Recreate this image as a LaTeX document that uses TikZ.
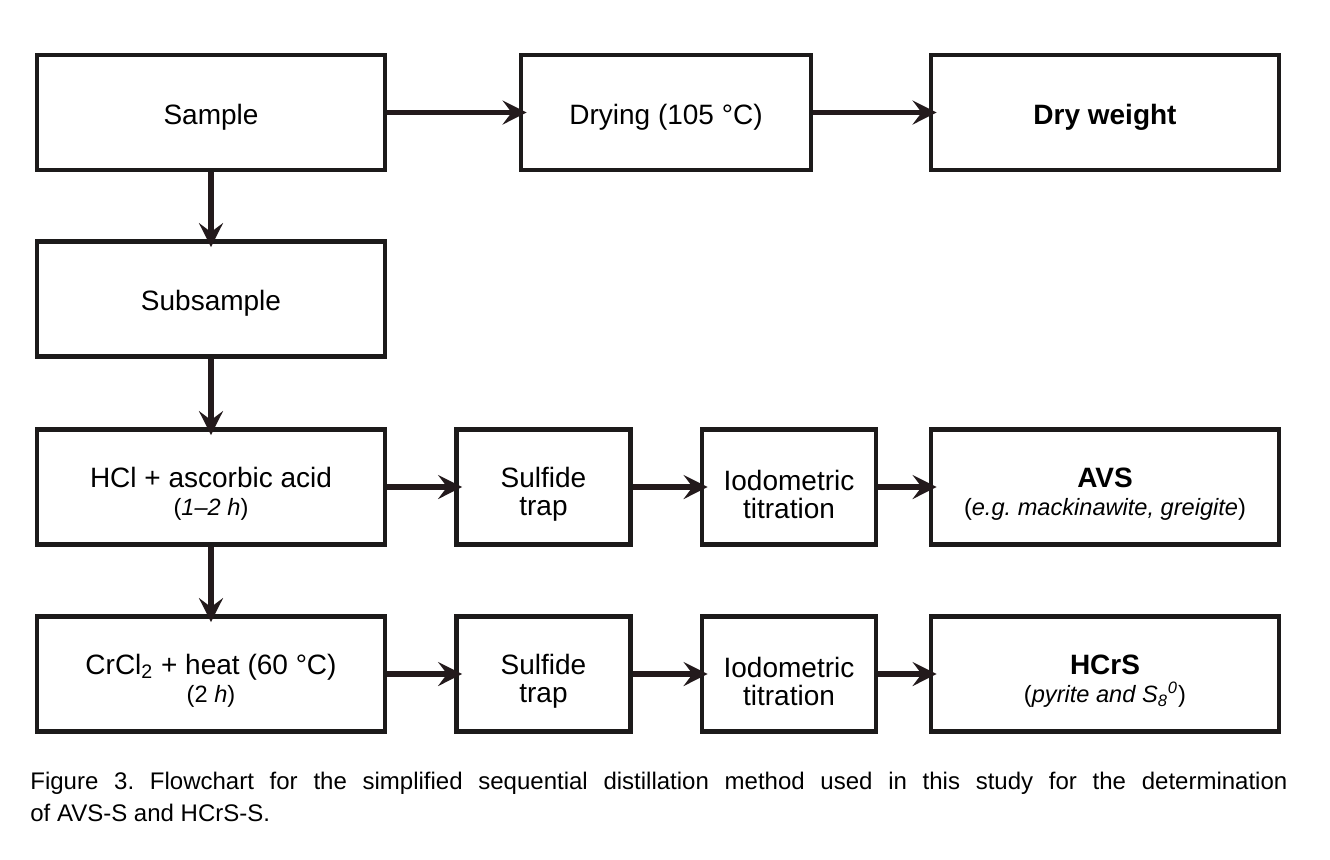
\documentclass[tikz,border=0pt]{standalone}
\usepackage{fontspec}
\setmainfont{Liberation Sans}
\usetikzlibrary{arrows.meta}
\definecolor{boxline}{HTML}{1C1A1A}
\definecolor{arrowline}{HTML}{231A1C}
\newcommand{\notesize}{\fontsize{11.8}{13.5}\selectfont}
\frenchspacing
\begin{document}
\begin{tikzpicture}[x=0.5pt, y=-0.5pt,
    stepbox/.style={draw=boxline, line width=2.4pt, minimum height=57.5pt,
        inner sep=2pt, align=center, font=\fontsize{14}{14}\selectfont,
        execute at begin node={\rule{0pt}{#1}}},
    stepbox/.default=14.5pt,
    widebox/.style={stepbox=#1, minimum width=174pt},
    widebox/.default=14.5pt,
    midbox/.style={stepbox, minimum width=145pt},
    smallbox/.style={stepbox=31.5pt, minimum width=87pt},
    flow/.style={draw=arrowline, line width=2.7pt, shorten >=-4pt,
        -{Stealth[length=12pt, width=12pt, inset=4.5pt]}}]
\useasboundingbox (0,0) rectangle (1330,859);
\node[widebox] (sample) at (211,112.5) {Sample};
\node[midbox] (drying) at (666,112.5) {Drying (105 °C)};
\node[widebox] (dry) at (1105,112.5) {\textbf{Dry weight}};
\node[widebox] (subsample) at (211,299) {Subsample};
\node[widebox=31pt] (hcl) at (211,487) {HCl + ascorbic acid\\{\notesize(\textit{1–2 h})}};
\node[smallbox] (trapA) at (543.5,487) {Sulfide\\trap};
\node[smallbox] (titrA) at (789,487) {Iodometric\\titration};
\node[widebox=31pt] (avs) at (1105,487) {\textbf{AVS}\\{\notesize(\textit{e.g. mackinawite, greigite})}};
\node[widebox=31pt] (crcl) at (211,674) {CrCl\textsubscript{2} + heat (60 °C)\\{\notesize(2 \textit{h})}};
\node[smallbox] (trapB) at (543.5,674) {Sulfide\\trap};
\node[smallbox] (titrB) at (789,674) {Iodometric\\titration};
\node[widebox=31pt] (hcrs) at (1105,674) {\textbf{HCrS}\\{\notesize(\textit{pyrite and S\textsubscript{8}\textsuperscript{0}})}};
\draw[flow] (sample) -- (drying);
\draw[flow] (drying) -- (dry);
\draw[flow] (sample) -- (subsample);
\draw[flow] (subsample) -- (hcl);
\draw[flow] (hcl) -- (crcl);
\draw[flow] (hcl) -- (trapA);
\draw[flow] (trapA) -- (titrA);
\draw[flow] (titrA) -- (avs);
\draw[flow] (crcl) -- (trapB);
\draw[flow] (trapB) -- (titrB);
\draw[flow] (titrB) -- (hcrs);
\node[anchor=north west, inner sep=0pt, text width=628.5pt, align=justify,
    font=\fontsize{12}{16}\selectfont] (caption) at (30,772)
    {Figure 3. Flowchart for the simplified sequential distillation method used in this study for the determination\linebreak of AVS-S and HCrS-S.};
\end{tikzpicture}
\end{document}
